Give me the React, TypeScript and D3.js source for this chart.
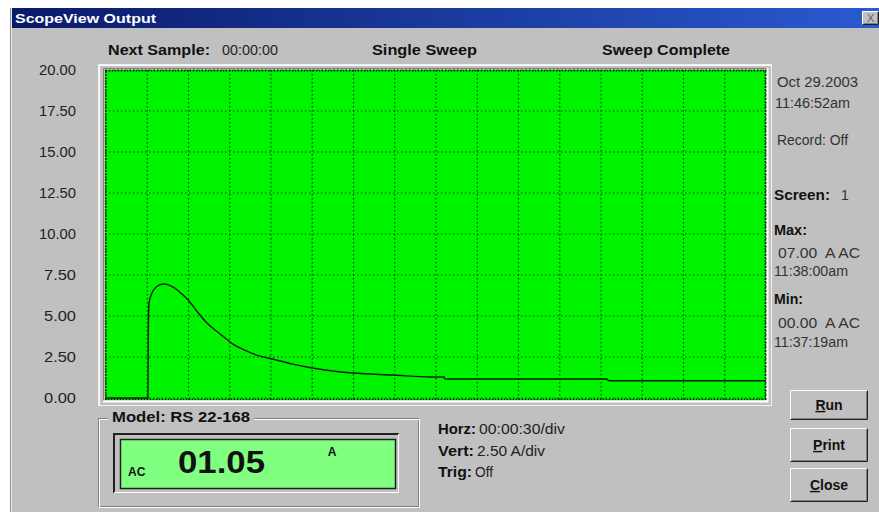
import React from 'react';
import * as d3 from 'd3';

// sweep samples (seconds from start, amps)
const timeSec = [0, 30.5, 30.8, 31.3, 32.5, 34, 36, 38.5, 42, 46, 50, 55, 60, 66, 72, 80, 86, 92, 100, 112, 121, 135, 150, 165, 180, 209, 236, 246, 246.5, 364, 366, 480];
const amps = [0, 0, 4.3, 5.8, 6.2, 6.5, 6.72, 6.88, 6.95, 6.88, 6.7, 6.35, 5.95, 5.3, 4.7, 4.1, 3.7, 3.3, 2.95, 2.55, 2.38, 2.08, 1.83, 1.65, 1.52, 1.4, 1.28, 1.28, 1.16, 1.16, 1.05, 1.05];
const yTicks = [0, 2.5, 5, 7.5, 10, 12.5, 15, 17.5, 20];
const xDivs = d3.range(0, 481, 30);

const headerItems = [
  { label: 'Next Sample:', value: '00:00:00', x: 108, lw: 102, vw: 56 },
  { label: 'Single Sweep', value: '', x: 372, lw: 105, vw: 0 },
  { label: 'Sweep Complete', value: '', x: 602, lw: 128, vw: 0 },
];
const sideLines = [
  { text: 'Oct 29.2003', y: 82, bold: false, x: 777, w: 81 },
  { text: '11:46:52am', y: 103, bold: false, x: 775, w: 75 },
  { text: 'Record: Off', y: 140, bold: false, x: 777, w: 71 },
  { text: 'Max:', y: 230, bold: true, x: 774, w: 33 },
  { text: '07.00  A AC', y: 253, bold: false, x: 778, w: 82 },
  { text: '11:38:00am', y: 271, bold: false, x: 774, w: 74 },
  { text: 'Min:', y: 299, bold: true, x: 774, w: 29 },
  { text: '00.00  A AC', y: 323, bold: false, x: 778, w: 82 },
  { text: '11:37:19am', y: 342, bold: false, x: 774, w: 74 },
];
const infoLines = [
  { label: 'Horz:', value: '00:00:30/div', y: 429, lw: 38, vw: 86 },
  { label: 'Vert:', value: '2.50 A/div', y: 451, lw: 36, vw: 68 },
  { label: 'Trig:', value: 'Off', y: 472, lw: 34, vw: 18 },
];
const buttons = [
  { first: 'R', rest: 'un', y: 390, h: 30 },
  { first: 'P', rest: 'rint', y: 428, h: 34 },
  { first: 'C', rest: 'lose', y: 468, h: 34 },
];

const W = 879;
const H = 512;
const FONT = '"Liberation Sans", Arial, sans-serif';
const plot = { left: 105, right: 766, top: 70, bottom: 400 };

const Raised: React.FC<{ x: number; y: number; w: number; h: number }> = ({ x, y, w, h }) => (
  <g>
    <rect x={x} y={y} width={w} height={h} fill="#c0c0c0" />
    <path d={`M${x + 0.5},${y + h - 0.5} V${y + 0.5} H${x + w - 0.5}`} stroke="#ffffff" fill="none" />
    <path d={`M${x + 0.5},${y + h - 0.5} H${x + w - 0.5} V${y + 0.5}`} stroke="#202020" fill="none" />
    <path d={`M${x + 1.5},${y + h - 1.5} H${x + w - 1.5} V${y + 1.5}`} stroke="#808080" fill="none" />
  </g>
);

const App: React.FC = () => {
  const x = d3.scaleLinear().domain([0, 480]).range([plot.left + 1, plot.right]);
  const y = d3.scaleLinear().domain([0, 20]).range([plot.bottom - 2, plot.top]);
  const line = d3.line<number>()
    .x((_, i) => x(timeSec[i]))
    .y(d => y(d))
    .curve(d3.curveMonotoneX);

  return (
    <div style={{ position: 'absolute', left: 0, top: 0 }}>
      <svg width={W} height={H} style={{ display: 'block', fontFamily: FONT }}>
        <defs>
          <linearGradient id="titleGrad" x1="0" x2="1" y1="0" y2="0">
            <stop offset="0" stopColor="#0a1a6a" />
            <stop offset="1" stopColor="#2a5ad0" />
          </linearGradient>
        </defs>
        <rect x={0} y={0} width={W} height={H} fill="#ffffff" />
        {/* window */}
        <rect x={10} y={8} width={W - 10} height={H - 8} fill="#c0c0c0" />
        <line x1={11.5} y1={8} x2={11.5} y2={H} stroke="#e8e8e8" />
        <line x1={10.5} y1={8} x2={10.5} y2={H} stroke="#909090" />
        <rect x={12} y={8} width={W - 12} height={20} fill="url(#titleGrad)" />
        <text x={15} y={22.5} fill="#ffffff" fontSize={13} fontWeight="bold" textLength={141} lengthAdjust="spacingAndGlyphs">ScopeView Output</text>
        <Raised x={862} y={11} w={17} h={14} />
        <text x={867} y={22} fontSize={11} fill="#606060">X</text>

        {/* header */}
        {headerItems.map(h => (
          <g key={h.label}>
            <text x={h.x} y={55} fontSize={14} fill="#111" fontWeight="bold" textLength={h.lw} lengthAdjust="spacingAndGlyphs">{h.label}</text>
            {h.value && (
              <text x={h.x + h.lw + 12} y={55} fontSize={14} fill="#222" textLength={h.vw} lengthAdjust="spacingAndGlyphs">{h.value}</text>
            )}
          </g>
        ))}

        {/* plot frame */}
        <rect x={98.5} y={64.5} width={673} height={341} fill="none" stroke="#f0f0f0" />
        <path d={`M99.5,405 V65.5 H771`} stroke="#ffffff" fill="none" />
        <path d={`M103.5,401 V68.5 H767`} stroke="#808080" fill="none" />
        <path d={`M103,401.5 H767.5 V68`} stroke="#ffffff" strokeWidth={2} fill="none" />
        <rect x={plot.left} y={plot.top} width={plot.right - plot.left} height={plot.bottom - plot.top} fill="#00f400" />

        {/* grid */}
        {yTicks.map(t => (
          <line key={'h' + t} x1={plot.left} x2={plot.right} y1={y(t)} y2={y(t)}
            stroke="#002a00" strokeWidth={1.2} strokeDasharray="1.4,2.6" opacity={0.85} />
        ))}
        {xDivs.map(t => (
          <line key={'v' + t} x1={x(t)} x2={x(t)} y1={plot.top} y2={plot.bottom}
            stroke="#002a00" strokeWidth={1.2} strokeDasharray="1.4,2.6" opacity={0.85} />
        ))}
        <rect x={plot.left + 0.75} y={plot.top + 0.75} width={plot.right - plot.left - 1.5} height={plot.bottom - plot.top - 1.5}
          fill="none" stroke="#002000" strokeWidth={1.5} strokeDasharray="1.5,1.5" />

        {/* trace */}
        <path d={line(amps) || ''} fill="none" stroke="#0a200a" strokeWidth={1.4} strokeLinejoin="round" />

        {/* y axis labels */}
        {yTicks.map(t => (
          <text key={'l' + t} x={76} y={y(t)} dy="0.35em" textAnchor="end" fontSize={14} fill="#222"
            textLength={t >= 10 ? 37 : 32} lengthAdjust="spacingAndGlyphs">
            {t.toFixed(2)}
          </text>
        ))}

        {/* right panel */}
        {sideLines.map(s => (
          <text key={s.text} x={s.x} y={s.y} dy="0.35em" fontSize={14} fill={s.bold ? '#111' : '#333'}
            fontWeight={s.bold ? 'bold' : 'normal'} style={{ whiteSpace: 'pre' }}
            textLength={s.w} lengthAdjust="spacingAndGlyphs">
            {s.text}
          </text>
        ))}
        <text x={774} y={195} dy="0.35em" fontSize={14} fill="#111" fontWeight="bold" textLength={56} lengthAdjust="spacingAndGlyphs">Screen:</text>
        <text x={841} y={195} dy="0.35em" fontSize={14} fill="#333">1</text>

        {/* model group */}
        <rect x={98.5} y={418.5} width={320} height={88} fill="none" stroke="#808080" />
        <rect x={99.5} y={419.5} width={320} height={88} fill="none" stroke="#ffffff" />
        <rect x={108} y={410} width={146} height={14} fill="#c0c0c0" />
        <text x={112} y={417} dy="0.35em" fontSize={14} fontWeight="bold" fill="#111" textLength={138} lengthAdjust="spacingAndGlyphs">Model: RS 22-168</text>
        <rect x={113} y={433} width={286} height={60} fill="#c0c0c0" />
        <path d="M114,493 V434 H399" stroke="#202020" strokeWidth={2} fill="none" />
        <path d="M114,492.5 H398.5 V434" stroke="#ffffff" fill="none" />
        <rect x={120.5} y={439.5} width={275} height={49} fill="#80ff80" stroke="#202020" strokeWidth={1.5} />
        <text x={128} y={472} dy="0.35em" fontSize={12} fontWeight="bold" fill="#111">AC</text>
        <text x={178} y={462} dy="0.35em" fontSize={31} fontWeight={600} fill="#111" textLength={87} lengthAdjust="spacingAndGlyphs">01.05</text>
        <text x={332} y={452} dy="0.35em" fontSize={12} fontWeight="bold" fill="#111" textAnchor="middle">A</text>

        {/* settings */}
        {infoLines.map(l => (
          <g key={l.label}>
            <text x={438} y={l.y} dy="0.35em" fontSize={14} fontWeight="bold" fill="#111" textLength={l.lw} lengthAdjust="spacingAndGlyphs">{l.label}</text>
            <text x={438 + l.lw + 3} y={l.y} dy="0.35em" fontSize={14} fill="#222" textLength={l.vw} lengthAdjust="spacingAndGlyphs">{l.value}</text>
          </g>
        ))}

        {/* buttons */}
        {buttons.map(b => (
          <g key={b.first}>
            <Raised x={790} y={b.y} w={78} h={b.h} />
            <text x={829} y={b.y + b.h / 2} dy="0.35em" textAnchor="middle" fontSize={14} fontWeight="bold" fill="#111">
              <tspan textDecoration="underline">{b.first}</tspan>{b.rest}
            </text>
          </g>
        ))}
      </svg>
    </div>
  );
};

export default App;
